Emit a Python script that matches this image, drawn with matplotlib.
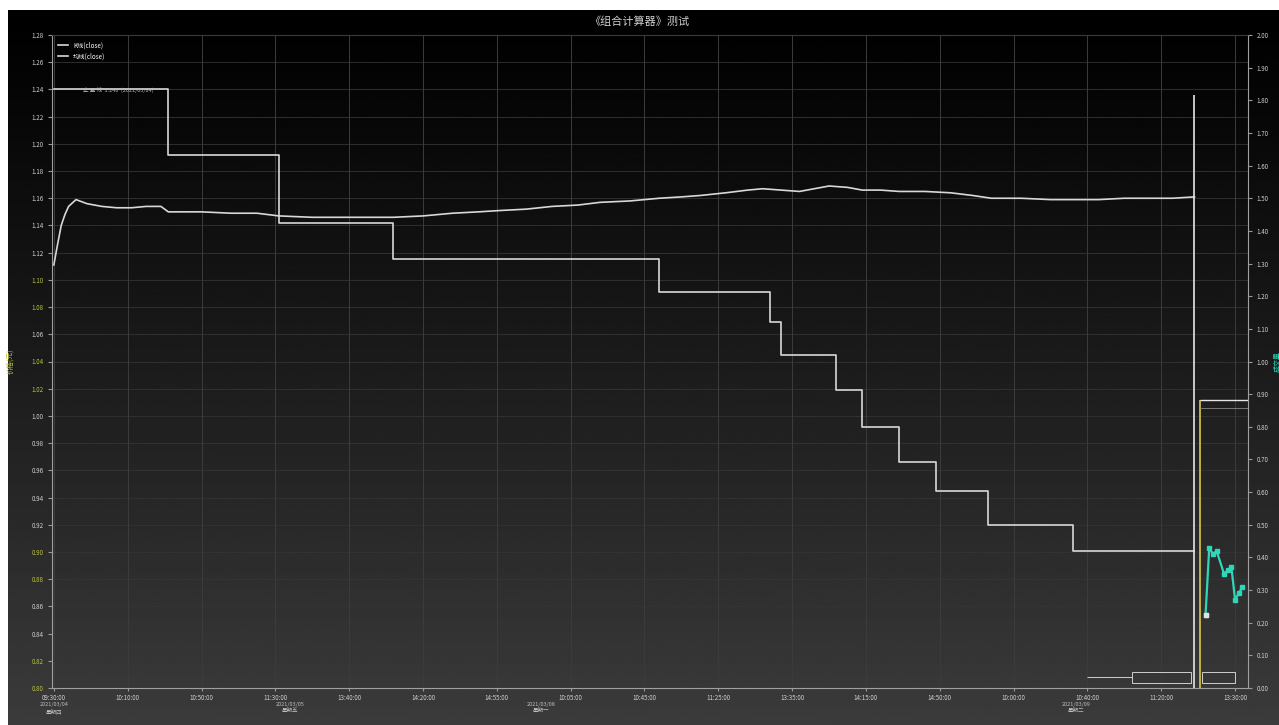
import numpy as np
import matplotlib.pyplot as plt
from matplotlib.patches import Rectangle

plt.rcParams['font.family'] = ['Noto Sans CJK SC', 'DejaVu Sans']

# --- data -------------------------------------------------------------
# smooth series (bar index, value)
curve_x = [0, 1, 2, 3, 4, 6, 9, 13, 17, 21, 25, 29, 31, 35, 40, 48, 55, 61,
           70, 80, 92, 100, 108, 115, 121, 128, 135, 142, 148, 156, 164, 170,
           175, 182, 188, 192, 197, 202, 206, 210, 215, 219, 224, 229, 236,
           243, 249, 254, 262, 270, 277, 283, 290, 297, 303, 309]
curve_y = [1.111, 1.126, 1.140, 1.148, 1.154, 1.159, 1.156, 1.154, 1.153,
           1.153, 1.154, 1.154, 1.150, 1.150, 1.150, 1.149, 1.149, 1.147,
           1.146, 1.146, 1.146, 1.147, 1.149, 1.150, 1.151, 1.152, 1.154,
           1.155, 1.157, 1.158, 1.160, 1.161, 1.162, 1.164, 1.166, 1.167,
           1.166, 1.165, 1.167, 1.169, 1.168, 1.166, 1.166, 1.165, 1.165,
           1.164, 1.162, 1.160, 1.160, 1.159, 1.159, 1.159, 1.160, 1.160,
           1.160, 1.161]

# step series: level i holds from step_x[i] to step_x[i+1]
step_x = [0, 31, 61, 92, 164, 194, 197, 212, 219, 229, 239, 253, 276, 309]
step_y = [1.240, 1.192, 1.142, 1.115, 1.091, 1.069, 1.045, 1.019, 0.992,
          0.966, 0.945, 0.920, 0.901, 0.901]

# right-axis series at the end of the range
tail_x = [312, 313, 314, 315, 317, 318, 319, 320, 321, 322]
tail_y = [0.224, 0.43, 0.41, 0.42, 0.35, 0.36, 0.37, 0.27, 0.29, 0.31]

left_ticks = [round(0.80 + 0.02 * i, 2) for i in range(25)]
right_ticks = [round(0.10 * i, 2) for i in range(21)]
hl_left = [1.10, 1.08, 1.04, 1.02, 0.90, 0.88, 0.82, 0.80]

x_ticks = list(range(0, 321, 20))
x_labels = ['09:30:00', '10:10:00', '10:50:00', '11:30:00', '13:40:00',
            '14:20:00', '14:55:00', '10:05:00', '10:45:00', '11:25:00',
            '13:35:00', '14:15:00', '14:50:00', '10:00:00', '10:40:00',
            '11:20:00', '13:30:00']
day_x = [0, 64, 132, 277]
day_labels = ['2021/03/04\n星期四', '2021/03/05\n星期五',
              '2021/03/08\n星期一', '2021/03/09\n星期二']

# --- figure -----------------------------------------------------------
W, H = 1279, 725
fig = plt.figure(figsize=(W / 100, H / 100), dpi=100, facecolor='white')

bg = fig.add_axes([8 / W, 0, 1 - 8 / W, 715 / H])
grad = np.linspace(0, 1, 256).reshape(-1, 1) ** 1.1
bg.imshow(grad, aspect='auto', cmap='gray', vmin=0, vmax=4.3,
          extent=[0, 1, 0, 1], origin='upper')
bg.set_axis_off()

ax = fig.add_axes([52 / W, (H - 688) / H, (1248 - 52) / W, (688 - 35) / H])
ax.set_facecolor('none')
ax.set_xlim(-0.5, 323.5)
ax.set_ylim(0.80, 1.28)

grid_c = '#343434'
for v in left_ticks:
    ax.axhline(v, color=grid_c, lw=0.6, zorder=0)
for v in x_ticks:
    ax.axvline(v, color='#3c3c3c', lw=0.7, zorder=0)

line_c = '#d8d8d8'
ax.plot(curve_x, curve_y, color=line_c, lw=1.2, label='K线(close)')
ax.step(step_x, step_y, where='post', color=line_c, lw=1.2, label='均线(close)')
ax.text(8, 1.237, '止 盈 线  1.240  (2021/03/04)', color='#bbbbbb',
        fontsize=4, va='bottom')

# marker lines at the end of the range
ax.vlines(309, 0.80, 1.236, color='#e6e6e6', lw=1.2)
ax.vlines(310.5, 0.80, 1.012, color='#d9c84a', lw=1.2)
ax.hlines(1.012, 310.5, 323.5, color='#e6e6e6', lw=1.0)
ax.hlines(1.006, 310.5, 323.5, color='#888888', lw=0.6)

# small range selector in the lower right corner
for x0, w in [(292, 16), (311, 9)]:
    ax.add_patch(Rectangle((x0, 0.804), w, 0.008, fill=False,
                           ec='#cfcfcf', lw=0.7))
ax.hlines(0.808, 280, 292, color='#cfcfcf', lw=0.7)

ax.set_yticks(left_ticks)
ax.set_yticklabels([f'{v:.2f}' for v in left_ticks])
for lab, v in zip(ax.get_yticklabels(), left_ticks):
    lab.set_color('#b8c23a' if round(v, 2) in hl_left else '#cfcfcf')
ax.set_xticks(x_ticks)
ax.set_xticklabels(x_labels)
ax.tick_params(axis='y', labelsize=4.5, length=3, color='#999999', pad=3)
ax.tick_params(axis='x', labelsize=4.5, length=2, color='#999999',
               labelcolor='#cfcfcf', pad=2)
for s in ['left', 'bottom', 'right']:
    ax.spines[s].set_color('#a0a0a0')
ax.spines['top'].set_color('#3a3a3a')

for xv, txt in zip(day_x, day_labels):
    ax.text(xv, -0.021, txt, transform=ax.get_xaxis_transform(),
            color='#bdbdbd', fontsize=4, ha='center', va='top',
            linespacing=1.25)

ax.set_ylabel('价格(元)', color='#b8c23a', fontsize=5, labelpad=12)

ax.legend(loc='upper left', fontsize=4.5, frameon=False, labelcolor='white',
          handlelength=1.6, borderaxespad=0.6)

ax2 = ax.twinx()
ax2.set_ylim(0, 2.0)
ax2.plot(tail_x, tail_y, color='#2fd6b8', lw=1.6, marker='s', ms=2.5)
ax2.plot(tail_x[0], tail_y[0], 's', color='#e0e0e0', ms=3)
ax2.set_yticks(right_ticks)
ax2.set_yticklabels([f'{v:.2f}' for v in right_ticks])
ax2.tick_params(axis='y', labelsize=4.5, length=3, color='#999999',
                labelcolor='#cfcfcf', pad=3)
ax2.set_ylabel('成交量', color='#2fd6b8', fontsize=5, rotation=90, labelpad=3)
for s in ax2.spines.values():
    s.set_visible(False)

fig.text(0.5, 1 - 22 / H, '《组合计算器》测试', color='#d0d0d0',
         fontsize=8, ha='center', va='center')

fig.savefig('out.png', dpi=100)
